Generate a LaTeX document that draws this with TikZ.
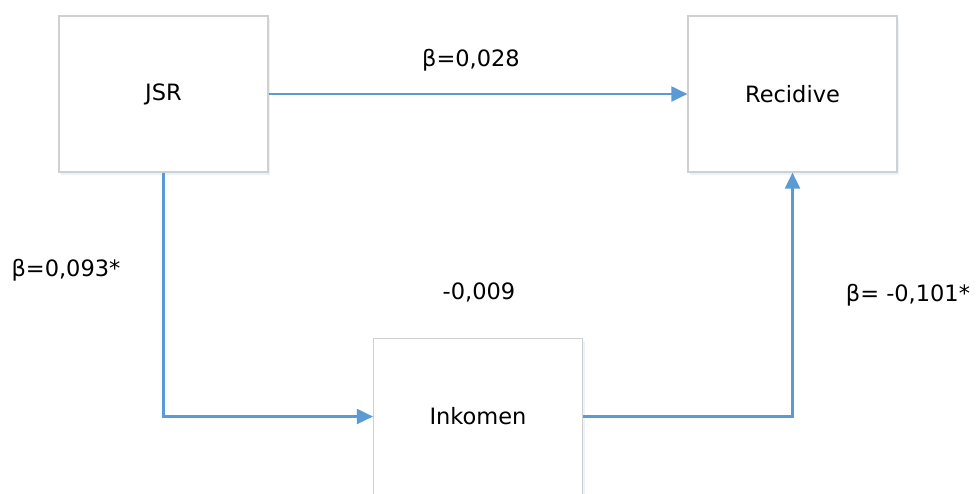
\documentclass[tikz,border=0pt]{standalone}
\usepackage{fontspec}
\setmainfont{DejaVu Sans}
\usetikzlibrary{arrows.meta,shadows}
\definecolor{linkblue}{HTML}{5B9BD5}
\definecolor{boxgray}{HTML}{D0D0D0}
\begin{document}
\begin{tikzpicture}[x=1pt,y=-1pt,
  varbox/.style={draw=boxgray,line width=1.2pt,fill=white,rectangle,minimum width=209pt,minimum height=156pt,inner sep=0pt,
    drop shadow={shadow xshift=2pt,shadow yshift=-3pt,opacity=0.12,fill=linkblue}},
  link/.style={draw=linkblue,line width=2.1pt,-{Triangle[length=16pt,width=15pt]}},
  lbl/.style={inner sep=0pt},
  font=\fontsize{22.5}{27}\selectfont]
\useasboundingbox (0,0) rectangle (979,493);
\node[varbox] (jsr) at (163.5,94) {JSR};
\node[varbox] (rec) at (792.5,94) {Recidive};
\node[varbox] (ink) at (478,416.5) {Inkomen};
\draw[link] (jsr.east) -- (rec.west);
\draw[link] (jsr.south) |- (ink.west);
\draw[link] (ink.east) -| (rec.south);
\node[lbl] (b1) at (471,60) {β=0,028};
\node[lbl] (b2) at (479,292) {-0,009};
\node[lbl] (b3) at (66,270) {β=0,093*};
\node[lbl] (b4) at (908,295) {β= -0,101*};
\end{tikzpicture}
\end{document}
